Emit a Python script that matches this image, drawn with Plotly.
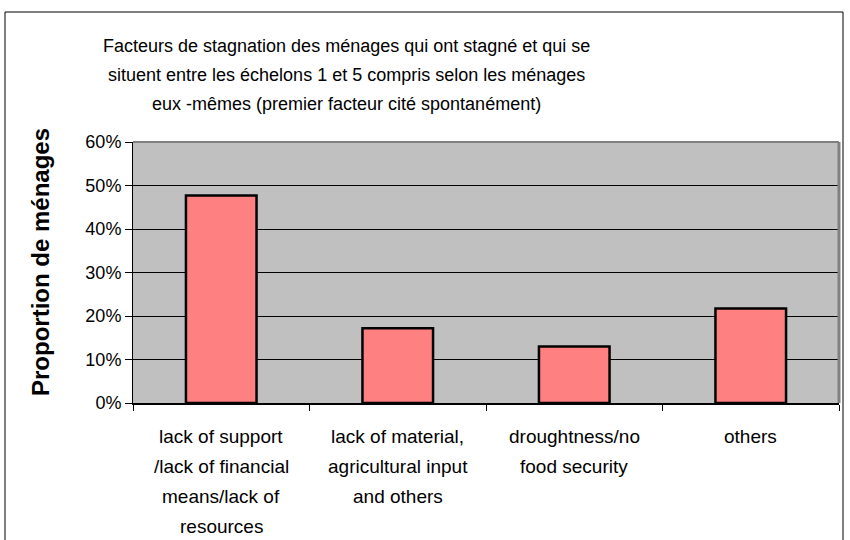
import plotly.graph_objects as go

categories = ["lack of support", "lack of material", "droughtness", "others"]
values = [0.477, 0.172, 0.130, 0.217]
tick_label_lines = [
    ["lack of support", "/lack of financial", "means/lack of", "resources"],
    ["lack of material,", "agricultural input", "and others"],
    ["droughtness/no", "food security"],
    ["others"],
]
title_lines = [
    "Facteurs de stagnation des ménages qui ont stagné et qui se",
    "situent entre les échelons 1 et 5 compris selon les ménages",
    "eux -mêmes (premier facteur cité spontanément)",
]
y_title = "Proportion de ménages"

FONT = "Liberation Sans, Arial, sans-serif"

fig = go.Figure()
fig.add_trace(go.Bar(
    x=categories, y=values, width=0.40,
    marker=dict(color="#FF8080", line=dict(color="black", width=2.5)),
))

annotations = []
for i, line in enumerate(title_lines):
    annotations.append(dict(
        text=line, xref="paper", yref="paper", x=0.3017, y=1,
        yshift=96 - 29 * i, xanchor="center", yanchor="middle",
        showarrow=False, font=dict(family=FONT, size=18, color="black"),
    ))
for cat, lines in zip(categories, tick_label_lines):
    for j, line in enumerate(lines):
        annotations.append(dict(
            text=line, xref="x", yref="paper", x=cat, y=0,
            yshift=-33 - 30 * j, xanchor="center", yanchor="middle",
            showarrow=False, font=dict(family=FONT, size=19, color="black"),
        ))
annotations.append(dict(
    text="<b>" + y_title + "</b>", xref="paper", yref="paper",
    x=(40 - 133) / 706, y=(403 - 262) / 261, textangle=-90,
    xanchor="center", yanchor="middle", showarrow=False,
    font=dict(family=FONT, size=24, color="black"),
))

shapes = [
    # outer chart border
    dict(type="rect", xref="paper", yref="paper",
         x0=(5 - 133) / 706, x1=(843 - 133) / 706,
         y0=(403 - 560) / 261, y1=(403 - 12) / 261,
         line=dict(color="black", width=1), fillcolor="rgba(0,0,0,0)", layer="above"),
    # plot area top & right borders
    dict(type="line", xref="paper", yref="paper", x0=0, x1=1, y0=1, y1=1,
         line=dict(color="#808080", width=2), layer="above"),
    dict(type="line", xref="paper", yref="paper", x0=1, x1=1, y0=0, y1=1,
         line=dict(color="#808080", width=3), layer="above"),
]

fig.update_layout(
    width=850, height=540,
    margin=dict(l=133, r=11, t=142, b=137),
    paper_bgcolor="white", plot_bgcolor="#C0C0C0",
    showlegend=False, bargap=0.6,
    font=dict(family=FONT, size=18, color="black"),
    annotations=annotations, shapes=shapes,
    xaxis=dict(
        type="category", range=[-0.5, 3.5], showticklabels=False,
        ticks="outside", tickson="boundaries", ticklen=6, tickcolor="black",
        showline=True, linecolor="black", linewidth=2, showgrid=False,
    ),
    yaxis=dict(
        range=[0, 0.6], dtick=0.1, tickformat=".0%",
        ticks="outside", ticklen=7, tickcolor="black",
        showline=True, linecolor="black", linewidth=1,
        showgrid=True, gridcolor="black", gridwidth=1, zeroline=False,
        tickfont=dict(family=FONT, size=18, color="black"),
    ),
)

fig.write_html(
    "out.html",
    config={"displayModeBar": False},
    post_script="document.body.style.margin='0px';document.body.style.overflow='hidden';",
)
